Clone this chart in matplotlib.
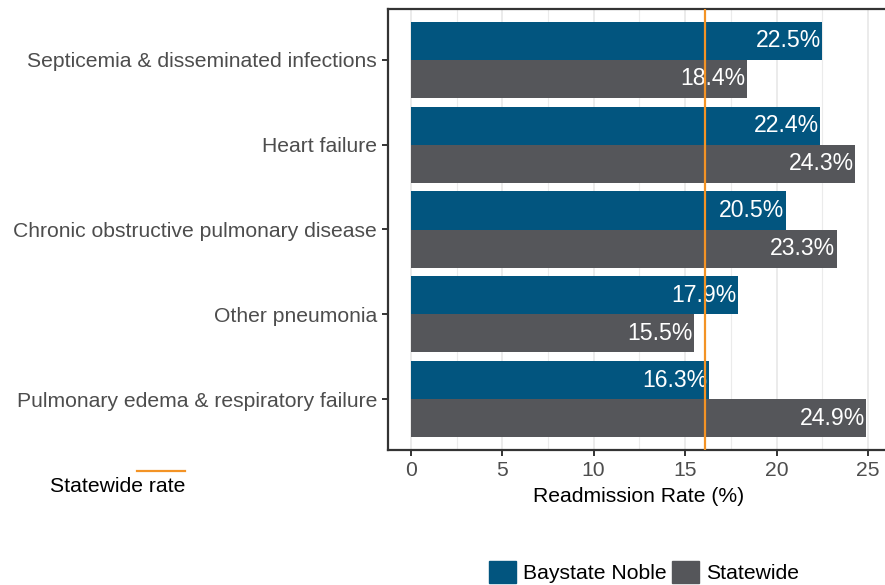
from matplotlib import pyplot as plt
from matplotlib.patches import Patch
from matplotlib.lines import Line2D
import numpy as np

plt.rcParams['font.family'] = ['Liberation Sans', 'DejaVu Sans']

#--------------------------------------------------------------------------------
categories = ["Septicemia & disseminated infections",
              "Heart failure",
              "Chronic obstructive pulmonary disease",
              "Other pneumonia",
              "Pulmonary edema & respiratory failure"]
baystate  = [22.5, 22.4, 20.5, 17.9, 16.3]
statewide = [18.4, 24.3, 23.3, 15.5, 24.9]
state_rate = 16.1

blue = '#02557f'
grey = '#55565a'
orange = '#f39325'
fs = 15.2
fs_lab = 16.6

W, H = 885, 585
fig = plt.figure(figsize=(W/100, H/100), dpi=100)
ax = fig.add_axes([388/W, (H-450)/H, (889-388)/W, (450-9)/H])

y = np.arange(len(categories))[::-1] + 1.0
ax.barh(y + 0.225, baystate, height=0.45, color=blue, zorder=2)
ax.barh(y - 0.225, statewide, height=0.45, color=grey, zorder=2)

for yy, v in zip(y + 0.225, baystate):
    ax.text(v - 0.08, yy, "%.1f%%" % v, ha='right', va='center', color='white', fontsize=fs_lab, zorder=3)
for yy, v in zip(y - 0.225, statewide):
    ax.text(v - 0.08, yy, "%.1f%%" % v, ha='right', va='center', color='white', fontsize=fs_lab, zorder=3)

ax.axvline(state_rate, color=orange, lw=1.6, zorder=4)

ax.set_xlim(-1.245, 26.145)
ax.set_ylim(0.4, 5.6)
ax.set_xticks(np.arange(0, 26, 5))
ax.set_xticks(np.arange(2.5, 26, 5), minor=True)
ax.set_yticks(y)
ax.set_yticklabels(categories)
ax.grid(True, axis='x', which='major', color='#ebebeb', lw=1.4, zorder=0)
ax.grid(True, axis='x', which='minor', color='#ebebeb', lw=0.8, zorder=0)
ax.tick_params(axis='both', which='major', labelsize=fs, labelcolor='#4d4d4d',
               color='#333333', length=4, width=1.4, pad=4)
ax.tick_params(axis='x', which='minor', length=0)
for s in ['left', 'bottom', 'top', 'right']:
    ax.spines[s].set_color('#333333')
    ax.spines[s].set_linewidth(1.6)
ax.set_xlabel("Readmission Rate (%)", fontsize=fs, color='black', labelpad=5)

# statewide rate annotation
fig.add_artist(Line2D([137/W, 185/W], [1-471/H, 1-471/H], color=orange, lw=1.6))
fig.text(50/W, 1-487/H, "Statewide rate", fontsize=fs, color='black', va='center', ha='left')

handles = [Patch(color=blue, label='Baystate Noble'), Patch(color=grey, label='Statewide')]
fig.legend(handles=handles, loc='center', bbox_to_anchor=(644/W, 1-572/H), ncol=2,
           frameon=False, fontsize=fs, handlelength=1.25, handleheight=1.25,
           handletextpad=0.33, columnspacing=0.28, borderpad=0)

plt.savefig("out.png", dpi=100)
#--------------------------------------------------------------------------------
